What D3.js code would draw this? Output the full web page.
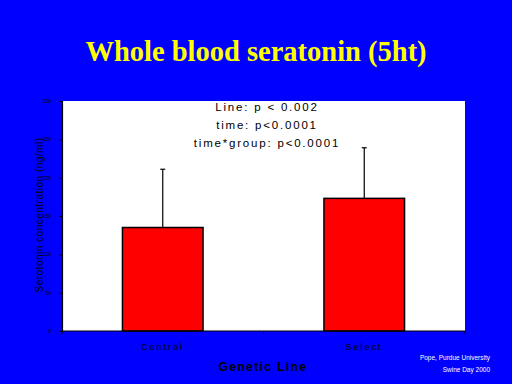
<!DOCTYPE html>
<html>
<head>
<meta charset="utf-8">
<script src="https://cdn.jsdelivr.net/npm/d3@7"></script>
<style>
  html, body { margin: 0; padding: 0; background: #0000ff; }
  svg { display: block; }
</style>
</head>
<body>
<svg id="chart" width="512" height="384"></svg>
<script>
// data
const lines = ["Control", "Select"];
const means = [135, 173];
const errUp = [76, 66];
const yTicks = [0, 50, 100, 150, 200, 250, 300];
const stats = ["Line: p < 0.002", "time: p<0.0001", "time*group: p<0.0001"];

const svg = d3.select("#chart");
const W = 512, H = 384;

svg.append("rect").attr("width", W).attr("height", H).attr("fill", "#0000ff");

// plot box
const plotL = 62, plotR = 465, plotT = 101, plotB = 331;

svg.append("rect")
  .attr("x", plotL).attr("y", plotT)
  .attr("width", plotR - plotL).attr("height", plotB - plotT)
  .attr("fill", "#fff");

const x = d3.scaleBand()
  .domain(lines)
  .range([plotL, plotR])
  .paddingInner(0.6)
  .paddingOuter(0.3);

const y = d3.scaleLinear().domain([0, 300]).range([plotB, plotT]);

// title
svg.append("text")
  .attr("x", 256).attr("y", 61)
  .attr("text-anchor", "middle")
  .attr("font-family", "Liberation Serif, Times New Roman, serif")
  .attr("font-weight", "bold")
  .attr("font-size", 28.5)
  .attr("fill", "#ffff00")
  .text("Whole blood seratonin (5ht)");

// bars
svg.selectAll("rect.bar")
  .data(lines)
  .join("rect")
  .attr("class", "bar")
  .attr("x", d => x(d))
  .attr("y", (d, i) => y(means[i]))
  .attr("width", x.bandwidth())
  .attr("height", (d, i) => plotB - y(means[i]))
  .attr("fill", "#ff0000")
  .attr("stroke", "#000")
  .attr("stroke-width", 1.5);

// one-sided error bars
const eb = svg.selectAll("g.err")
  .data(lines)
  .join("g")
  .attr("class", "err");

eb.append("line")
  .attr("x1", d => x(d) + x.bandwidth() / 2)
  .attr("x2", d => x(d) + x.bandwidth() / 2)
  .attr("y1", (d, i) => y(means[i]))
  .attr("y2", (d, i) => y(means[i] + errUp[i]))
  .attr("stroke", "#000").attr("stroke-width", 1.2);

eb.append("line")
  .attr("x1", d => x(d) + x.bandwidth() / 2 - 2.5)
  .attr("x2", d => x(d) + x.bandwidth() / 2 + 2.5)
  .attr("y1", (d, i) => y(means[i] + errUp[i]))
  .attr("y2", (d, i) => y(means[i] + errUp[i]))
  .attr("stroke", "#000").attr("stroke-width", 1.2);

// y axis
const yAxis = svg.append("g")
  .attr("transform", `translate(${plotL},0)`)
  .call(d3.axisLeft(y).tickValues(yTicks).tickSize(3).tickPadding(8));
yAxis.select(".domain").attr("stroke", "#000").attr("stroke-width", 1.2);
yAxis.selectAll(".tick line").attr("stroke", "#000");
yAxis.selectAll(".tick text")
  .attr("fill", "#000")
  .attr("font-family", "Liberation Sans, Arial, sans-serif")
  .attr("font-size", 5);

// x axis: ticks at band boundaries
const xAxisG = svg.append("g").attr("transform", `translate(0,${plotB})`);
xAxisG.append("line")
  .attr("x1", plotL).attr("x2", plotR)
  .attr("stroke", "#000").attr("stroke-width", 1.2);
const bounds = [plotL, (x(lines[0]) + x(lines[1]) + x.bandwidth()) / 2, plotR];
xAxisG.selectAll("line.xt")
  .data(bounds)
  .join("line")
  .attr("class", "xt")
  .attr("x1", d => d).attr("x2", d => d)
  .attr("y1", 0).attr("y2", 3)
  .attr("stroke", "#000");

svg.selectAll("text.cat")
  .data(lines)
  .join("text")
  .attr("class", "cat")
  .attr("x", d => x(d) + x.bandwidth() / 2)
  .attr("y", 350)
  .attr("text-anchor", "middle")
  .attr("font-family", "Liberation Sans, Arial, sans-serif")
  .attr("font-size", 8.5)
  .attr("letter-spacing", 2.2)
  .attr("fill", "#000")
  .text(d => d);

svg.append("text")
  .attr("x", 263).attr("y", 371)
  .attr("text-anchor", "middle")
  .attr("font-family", "Liberation Sans, Arial, sans-serif")
  .attr("font-weight", "bold")
  .attr("font-size", 12)
  .attr("letter-spacing", 1.4)
  .attr("fill", "#000")
  .text("Genetic Line");

// y label
svg.append("text")
  .attr("transform", "translate(43,215) rotate(-90)")
  .attr("text-anchor", "middle")
  .attr("font-family", "Liberation Sans, Arial, sans-serif")
  .attr("font-size", 10)
  .attr("letter-spacing", 0.5)
  .attr("fill", "#000")
  .text("Serotonin concentration (ng/ml)");

// stats annotations
svg.selectAll("text.stat")
  .data(stats)
  .join("text")
  .attr("class", "stat")
  .attr("x", 267)
  .attr("y", (d, i) => 111 + i * 18)
  .attr("text-anchor", "middle")
  .attr("font-family", "Liberation Sans, Arial, sans-serif")
  .attr("font-size", 11.5)
  .attr("letter-spacing", 1.8)
  .attr("fill", "#000")
  .text(d => d);

// credit
svg.append("text")
  .attr("x", 490).attr("y", 360)
  .attr("text-anchor", "end")
  .attr("font-family", "Liberation Sans, Arial, sans-serif")
  .attr("font-size", 6.5)
  .attr("fill", "#fff")
  .text("Pope, Purdue University");
svg.append("text")
  .attr("x", 490).attr("y", 372)
  .attr("text-anchor", "end")
  .attr("font-family", "Liberation Sans, Arial, sans-serif")
  .attr("font-size", 6.5)
  .attr("fill", "#fff")
  .text("Swine Day 2000");
</script>
</body>
</html>
